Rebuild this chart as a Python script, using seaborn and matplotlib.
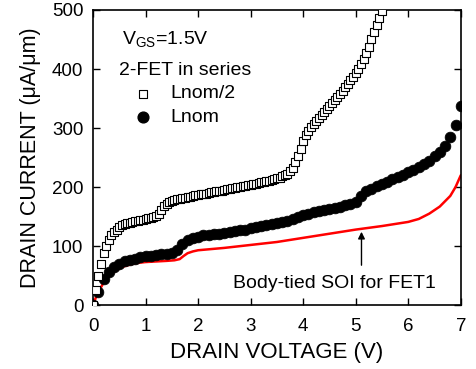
import numpy as np
import pandas as pd
import matplotlib
matplotlib.use("Agg")
import matplotlib.pyplot as plt
import seaborn as sns

# Lnom/2 (open squares)
half_v = [round(0.05 * i, 2) for i in range(111)]
half_i = [0, 25, 50, 70, 88, 100, 110, 118, 124, 128, 132, 135, 137, 139, 140, 141, 142, 143, 144, 145,
          146, 147, 148, 149, 151, 155, 162, 168, 172, 175, 177, 178, 179, 180, 181, 182, 183, 184, 185, 186,
          187, 188, 189, 189, 190, 191, 192, 193, 194, 194, 195, 196, 197, 198, 199, 200, 200, 201, 202, 203,
          204, 205, 206, 207, 208, 209, 210, 211, 212, 213, 215, 216, 218, 220, 223, 227, 233, 242, 252, 265,
          278, 288, 295, 301, 307, 312, 317, 322, 327, 332, 337, 342, 347, 352, 358, 363, 369, 375, 381, 387,
          393, 400, 408, 417, 427, 438, 450, 462, 474, 486, 498]

# Lnom (filled circles)
nom_v = [round(0.1 * i, 1) for i in range(71)]
nom_i = [0, 22, 44, 57, 65, 70, 74, 77, 79, 81, 83, 84, 85, 86, 87, 89, 93, 103, 110, 114,
         116, 118, 119, 120, 121, 122, 124, 125, 127, 128, 130, 132, 134, 135, 137, 139, 141, 143, 146, 149,
         152, 155, 157, 159, 161, 163, 165, 167, 169, 171, 175, 185, 193, 197, 201, 205, 209, 213, 217, 221,
         225, 229, 234, 239, 245, 252, 260, 270, 285, 305, 338]

# Body-tied SOI for FET1 (red line)
bt_v = [0, 0.05, 0.1, 0.2, 0.3, 0.4, 0.5, 0.6, 0.8, 1.0, 1.2, 1.4, 1.55, 1.65, 1.72, 1.8, 1.9, 2.0, 2.5, 3.0,
        3.5, 4.0, 4.5, 5.0, 5.5, 6.0, 6.2, 6.4, 6.6, 6.8, 6.9, 7.0]
bt_i = [0, 12, 22, 38, 48, 56, 62, 66, 71, 73, 74, 75, 76, 78, 83, 88, 91, 93, 97, 102,
        107, 114, 121, 128, 134, 141, 146, 155, 167, 185, 200, 220]

xticks = [0, 1, 2, 3, 4, 5, 6, 7]
yticks = [0, 100, 200, 300, 400, 500]

sns.set_theme(style="ticks")
plt.rcParams['font.family'] = ['Liberation Sans', 'DejaVu Sans']
plt.rcParams['text.color'] = 'black'
plt.rcParams['axes.labelcolor'] = 'black'

fig = plt.figure(figsize=(4.77, 3.69), dpi=100)
ax = fig.add_axes([0.195, 0.173, 0.771, 0.800])

df_half = pd.DataFrame({"V": half_v, "I": half_i})
df_nom = pd.DataFrame({"V": nom_v, "I": nom_i})
df_bt = pd.DataFrame({"V": bt_v, "I": bt_i})

sns.lineplot(data=df_bt, x="V", y="I", ax=ax, color="#ff0000", linewidth=1.8, zorder=2)
sns.scatterplot(data=df_nom, x="V", y="I", ax=ax, color="black", s=60, marker="o",
                edgecolor="black", linewidth=0.5, zorder=3)
sns.scatterplot(data=df_half, x="V", y="I", ax=ax, marker="s", s=32, facecolor="white",
                edgecolor="black", linewidth=0.8, zorder=4)

ax.set_xlim(0, 7)
ax.set_ylim(0, 500)
ax.set_xticks(xticks)
ax.set_yticks(yticks)
ax.tick_params(direction="in", top=True, right=True, length=5, width=1, labelsize=13.5,
               colors="black")
ax.tick_params(axis="x", pad=9)
ax.tick_params(axis="y", pad=7)
for s in ax.spines.values():
    s.set_linewidth(1.2)
    s.set_color("black")
ax.set_xlabel("DRAIN VOLTAGE (V)", fontsize=16, labelpad=5)
ax.set_ylabel("DRAIN CURRENT (\u03bcA/\u03bcm)", fontsize=15.5, labelpad=8)

ax.text(0.55, 450, "V$_{\\mathregular{GS}}$=1.5V", fontsize=14, va="center")
ax.text(0.5, 398, "2-FET in series", fontsize=14, va="center")
ax.scatter([0.95], [358], marker="s", s=32, facecolor="white", edgecolor="black", linewidth=0.8)
ax.text(1.48, 358, "Lnom/2", fontsize=14, va="center")
ax.scatter([0.95], [318], marker="o", s=60, color="black")
ax.text(1.48, 318, "Lnom", fontsize=14, va="center")

ax.annotate("", xy=(5.11, 129), xytext=(5.11, 63),
            arrowprops=dict(arrowstyle="-|>", color="black", lw=1, mutation_scale=10))
ax.text(2.67, 37, "Body-tied SOI for FET1", fontsize=14, va="center")

fig.savefig("out.png", dpi=100)
